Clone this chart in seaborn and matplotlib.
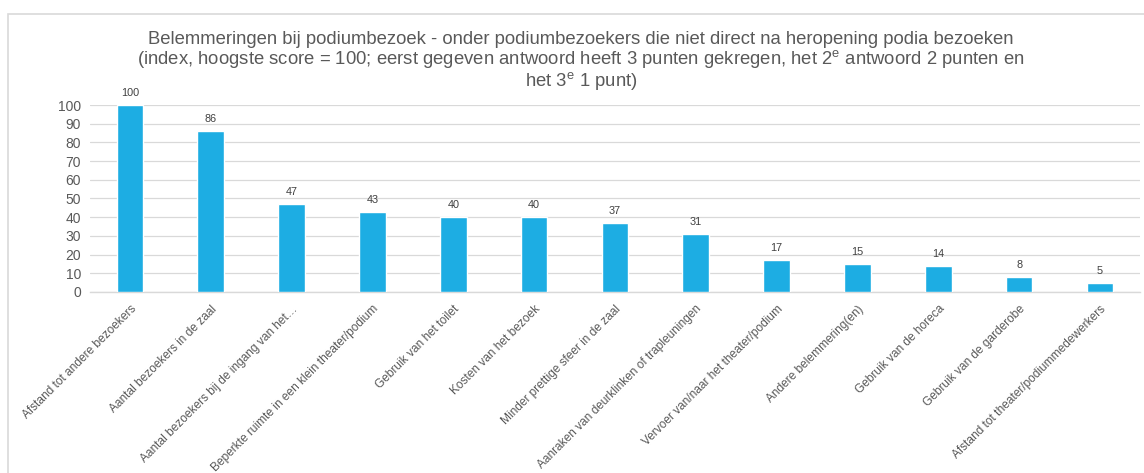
# ============================================================
# Belemmeringen bij podiumbezoek - bar chart
# ============================================================

import matplotlib
matplotlib.use("Agg")
import matplotlib.pyplot as plt
import seaborn as sns
import pandas as pd
from matplotlib.patches import Rectangle

# ============================================================
# Data
# ============================================================

categories = [
    "Afstand tot andere bezoekers",
    "Aantal bezoekers in de zaal",
    "Aantal bezoekers bij de ingang van het\u2026",
    "Beperkte ruimte in een klein theater/podium",
    "Gebruik van het toilet",
    "Kosten van het bezoek",
    "Minder prettige sfeer in de zaal",
    "Aanraken van deurklinken of trapleuningen",
    "Vervoer van/naar het theater/podium",
    "Andere belemmering(en)",
    "Gebruik van de horeca",
    "Gebruik van de garderobe",
    "Afstand tot theater/podiummedewerkers",
]
scores = [100, 86, 47, 43, 40, 40, 37, 31, 17, 15, 14, 8, 5]
y_ticks = list(range(0, 101, 10))

title_lines = [
    "Belemmeringen bij podiumbezoek - onder podiumbezoekers die niet direct na heropening podia bezoeken",
    "(index, hoogste score = 100; eerst gegeven antwoord heeft 3 punten gekregen, het 2$^\\mathregular{e}$ antwoord 2 punten en",
    "het 3$^\\mathregular{e}$ 1 punt)",
]

df = pd.DataFrame({"categorie": categories, "score": scores})

# ============================================================
# Style
# ============================================================

sns.set_theme(style="white")
plt.rcParams["font.family"] = ["Liberation Sans", "DejaVu Sans"]
plt.rcParams["mathtext.fontset"] = "custom"
plt.rcParams["mathtext.rm"] = "Liberation Sans"

bar_color = "#1dade3"
text_color = "#595959"
grid_color = "#d9d9d9"

# ============================================================
# Plot
# ============================================================

fig = plt.figure(figsize=(11.44, 4.73), dpi=100)
ax = fig.add_axes([0.0783, 0.3827, 0.9185, 0.3953])

sns.barplot(data=df, x="categorie", y="score", color=bar_color,
            width=0.33, saturation=1, ax=ax, zorder=3)

ax.set_ylim(0, 100)
ax.set_yticks(y_ticks)
ax.yaxis.grid(True, color=grid_color, linewidth=0.9, zorder=0)
ax.set_axisbelow(True)
for side in ["top", "right", "left"]:
    ax.spines[side].set_visible(False)
ax.spines["bottom"].set_color(grid_color)
ax.spines["bottom"].set_linewidth(1.0)

ax.set_xlabel("")
ax.set_ylabel("")
ax.tick_params(axis="y", length=0, pad=6, labelsize=10, labelcolor=text_color)
ax.tick_params(axis="x", length=0, pad=8, labelcolor=text_color)
ax.set_xticks(range(len(categories)))
ax.set_xticklabels(categories, rotation=45, ha="right",
                   rotation_mode="anchor", fontsize=8.6)

for i, v in enumerate(scores):
    ax.annotate(str(v), (i, v), xytext=(0, 5), textcoords="offset points",
                ha="center", va="bottom", fontsize=7.8, color="#404040",
                annotation_clip=False)

# title
fig.text(0.508, 0.935, "\n".join(title_lines), ha="center", va="top",
         fontsize=13.3, color=text_color, linespacing=1.02)

# chart border
fig.patches.append(Rectangle((8 / 1144, -0.01), 1.2, 1 - 14 / 473 + 0.01,
                             transform=fig.transFigure, fill=False,
                             edgecolor=grid_color, linewidth=1.2))

fig.savefig("out.png", dpi=100)
